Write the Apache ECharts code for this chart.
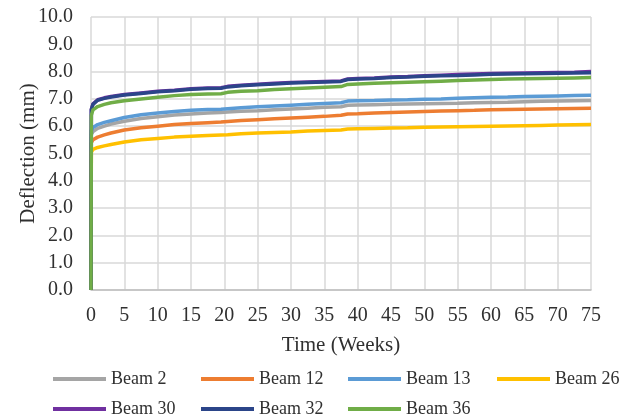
<!DOCTYPE html>
<html>
<head>
<meta charset="utf-8">
<script src="https://cdn.jsdelivr.net/npm/echarts@6/dist/echarts.min.js"></script>
<style>html,body{margin:0;padding:0;background:#fff;}#chart{width:623px;height:419px;}</style>
</head>
<body>
<div id="chart"></div>
<script>
var weeks = [0, 0.05, 0.3, 1, 2, 3, 5, 7.5, 10, 12.5, 15, 17.5, 19.5, 20.5, 22.5, 25, 27.5, 30, 32.5, 35, 37.5, 38.5, 40, 42.5, 45, 47.5, 50, 52.5, 55, 57.5, 60, 62.5, 65, 67.5, 70, 72.5, 75];
var seriesNames = ["Beam 2", "Beam 12", "Beam 13", "Beam 26", "Beam 30", "Beam 32", "Beam 36"];
var beam2  = [0, 5.70, 5.80, 5.92, 6.00, 6.08, 6.18, 6.28, 6.35, 6.41, 6.45, 6.48, 6.50, 6.52, 6.55, 6.57, 6.60, 6.63, 6.66, 6.69, 6.71, 6.77, 6.78, 6.79, 6.80, 6.81, 6.82, 6.83, 6.84, 6.86, 6.87, 6.88, 6.90, 6.91, 6.92, 6.93, 6.94];
var beam12 = [0, 5.40, 5.50, 5.60, 5.68, 5.75, 5.86, 5.94, 6.00, 6.06, 6.10, 6.13, 6.15, 6.17, 6.21, 6.24, 6.27, 6.30, 6.33, 6.36, 6.40, 6.45, 6.46, 6.48, 6.50, 6.52, 6.54, 6.56, 6.57, 6.58, 6.60, 6.61, 6.62, 6.63, 6.64, 6.65, 6.66];
var beam13 = [0, 5.85, 5.95, 6.06, 6.14, 6.20, 6.32, 6.42, 6.48, 6.54, 6.58, 6.61, 6.62, 6.64, 6.68, 6.71, 6.74, 6.77, 6.80, 6.83, 6.86, 6.92, 6.93, 6.94, 6.96, 6.97, 6.99, 7.00, 7.02, 7.04, 7.06, 7.07, 7.09, 7.10, 7.11, 7.12, 7.13];
var beam26 = [0, 5.05, 5.15, 5.22, 5.28, 5.33, 5.42, 5.50, 5.55, 5.60, 5.63, 5.66, 5.68, 5.69, 5.72, 5.75, 5.77, 5.79, 5.82, 5.84, 5.86, 5.90, 5.91, 5.92, 5.93, 5.94, 5.96, 5.97, 5.98, 5.99, 6.00, 6.01, 6.02, 6.03, 6.04, 6.05, 6.06];
var beam30 = [0, 6.62, 6.82, 6.97, 7.04, 7.09, 7.16, 7.22, 7.28, 7.32, 7.37, 7.40, 7.41, 7.46, 7.50, 7.54, 7.57, 7.60, 7.62, 7.64, 7.66, 7.73, 7.75, 7.77, 7.80, 7.82, 7.85, 7.87, 7.89, 7.91, 7.93, 7.94, 7.95, 7.96, 7.97, 7.98, 8.00];
var beam32 = [0, 6.60, 6.80, 6.95, 7.02, 7.07, 7.14, 7.20, 7.26, 7.30, 7.35, 7.38, 7.39, 7.44, 7.48, 7.52, 7.55, 7.58, 7.60, 7.62, 7.64, 7.71, 7.73, 7.75, 7.78, 7.80, 7.83, 7.85, 7.86, 7.88, 7.90, 7.91, 7.92, 7.93, 7.94, 7.95, 7.96];
var beam36 = [0, 6.40, 6.60, 6.72, 6.80, 6.86, 6.93, 7.00, 7.06, 7.12, 7.16, 7.18, 7.19, 7.24, 7.28, 7.30, 7.34, 7.37, 7.40, 7.43, 7.45, 7.53, 7.55, 7.57, 7.59, 7.61, 7.63, 7.65, 7.67, 7.69, 7.71, 7.73, 7.74, 7.75, 7.76, 7.77, 7.78];
var colors = ["#A5A5A5", "#ED7D31", "#5B9BD5", "#FFC000", "#7030A0", "#2B4589", "#70AD47"];

var values = [beam2, beam12, beam13, beam26, beam30, beam32, beam36];
var font = "'Liberation Serif', 'Times New Roman', serif";
function pairs(arr) { return weeks.map(function (w, i) { return [w, arr[i]]; }); }

var legendLeft = [48, 196, 343, 492, 48, 196, 343];
var legendTop = [365, 365, 365, 365, 395, 395, 395];
var legends = seriesNames.map(function (n, i) {
  return {
    data: [n], left: legendLeft[i], top: legendTop[i],
    icon: 'rect', itemWidth: 53, itemHeight: 4, itemTextGap: 4,
    textStyle: { fontFamily: font, fontSize: 18, color: '#303030' }
  };
});

var chart = echarts.init(document.getElementById('chart'));
chart.setOption({
  animation: false,
  color: colors,
  grid: { left: 91, right: 32, top: 17, bottom: 129 },
  legend: legends,
  xAxis: {
    type: 'value', min: 0, max: 75, interval: 5,
    name: 'Time (Weeks)', nameLocation: 'middle', nameGap: 45, nameMoveOverlap: false,
    nameTextStyle: { fontFamily: font, fontSize: 21, color: '#303030' },
    axisLine: { show: true, lineStyle: { color: '#BFBFBF', width: 1.5 } },
    axisTick: { show: false },
    axisLabel: { fontFamily: font, fontSize: 20, color: '#303030', margin: 16 },
    splitLine: { show: true, lineStyle: { color: '#D9D9D9', width: 1.5 } }
  },
  yAxis: {
    type: 'value', min: 0, max: 10, interval: 1,
    name: 'Deflection (mm)', nameLocation: 'middle', nameGap: 52, nameMoveOverlap: false,
    nameTextStyle: { fontFamily: font, fontSize: 21, color: '#303030' },
    axisLine: { show: false },
    axisTick: { show: false },
    axisLabel: { fontFamily: font, fontSize: 20, color: '#303030', margin: 18,
      formatter: function (v) { return v.toFixed(1); } },
    splitLine: { show: true, lineStyle: { color: '#D9D9D9', width: 1.5 } }
  },
  series: seriesNames.map(function (n, i) {
    return {
      name: n, type: 'line', data: pairs(values[i]), showSymbol: false, symbol: 'none',
      smooth: false, lineStyle: { width: 3.5, color: colors[i] }, itemStyle: { color: colors[i] }
    };
  })
});
</script>
</body>
</html>
